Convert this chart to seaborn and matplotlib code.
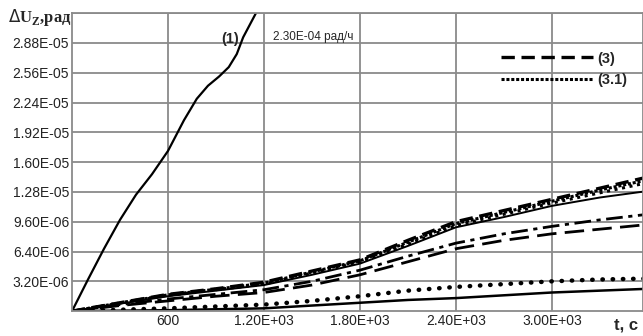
import matplotlib
matplotlib.use("Agg")
import matplotlib.pyplot as plt
import seaborn as sns
import pandas as pd

# curve (1)
t1 = [0, 100, 200, 300, 400, 500, 600, 700, 780, 850, 920, 980, 1030, 1070, 1110, 1150]
u1 = [0, 3.4e-6, 6.7e-6, 9.8e-6, 1.25e-5, 1.47e-5, 1.72e-5, 2.05e-5, 2.28e-5, 2.42e-5, 2.52e-5, 2.62e-5, 2.76e-5, 2.94e-5, 3.07e-5, 3.2e-5]

# lower bundle
t = [0, 300, 600, 900, 1200, 1500, 1800, 2100, 2400, 2700, 3000, 3300, 3600]
u3 = [0, 0.9e-6, 1.8e-6, 2.4e-6, 3.1e-6, 4.3e-6, 5.5e-6, 7.6e-6, 9.6e-6, 1.08e-5, 1.2e-5, 1.32e-5, 1.44e-5]
u31 = [0, 0.88e-6, 1.75e-6, 2.35e-6, 3.0e-6, 4.2e-6, 5.4e-6, 7.4e-6, 9.4e-6, 1.06e-5, 1.18e-5, 1.3e-5, 1.41e-5]
u_dot = [0, 0.85e-6, 1.7e-6, 2.3e-6, 2.9e-6, 4.1e-6, 5.3e-6, 7.2e-6, 9.2e-6, 1.04e-5, 1.16e-5, 1.27e-5, 1.38e-5]
u_sol = [0, 0.8e-6, 1.6e-6, 2.2e-6, 2.8e-6, 3.9e-6, 5.1e-6, 7.0e-6, 9.0e-6, 1.01e-5, 1.13e-5, 1.22e-5, 1.29e-5]
u_dd = [0, 0.7e-6, 1.3e-6, 1.8e-6, 2.3e-6, 3.2e-6, 4.4e-6, 5.9e-6, 7.3e-6, 8.3e-6, 9.1e-6, 9.8e-6, 1.04e-5]
u_ld = [0, 0.6e-6, 1.1e-6, 1.6e-6, 2.0e-6, 2.8e-6, 3.9e-6, 5.3e-6, 6.7e-6, 7.6e-6, 8.3e-6, 8.8e-6, 9.3e-6]
u_bd = [0, 0.15e-6, 0.3e-6, 0.5e-6, 0.7e-6, 1.1e-6, 1.6e-6, 2.2e-6, 2.6e-6, 2.9e-6, 3.2e-6, 3.4e-6, 3.5e-6]
u_ls = [0, 0.05e-6, 0.1e-6, 0.2e-6, 0.3e-6, 0.6e-6, 0.9e-6, 1.2e-6, 1.4e-6, 1.7e-6, 2.0e-6, 2.2e-6, 2.4e-6]

yticks = [3.2e-6, 6.4e-6, 9.6e-6, 1.28e-5, 1.6e-5, 1.92e-5, 2.24e-5, 2.56e-5, 2.88e-5]
ytick_labels = ["3.20E-06", "6.40E-06", "9.60E-06", "1.28E-05", "1.60E-05",
                "1.92E-05", "2.24E-05", "2.56E-05", "2.88E-05"]
xticks = [600, 1200, 1800, 2400, 3000]
xtick_labels = ["600", "1.20E+03", "1.80E+03", "2.40E+03", "3.00E+03"]

sns.set_theme(style="whitegrid")
plt.rcParams['font.family'] = ['Liberation Sans', 'DejaVu Sans']

fig = plt.figure(figsize=(6.43, 3.36), dpi=100)
ax = fig.add_axes([0.112, 0.074, 0.888, 0.887])
ax.set_facecolor("white")

df1 = pd.DataFrame({"t": t1, "u": u1})
sns.lineplot(data=df1, x="t", y="u", ax=ax, color="black", lw=1.6)

styles = [
    (u3, (0, (4, 2)), 2.4),
    (u31, (0, (1, 0.6)), 2.2),
    (u_dot, (0, (1, 1.5)), 2.2),
    (u_sol, "-", 1.4),
    (u_dd, (0, (6, 2, 1.5, 2)), 2.0),
    (u_ld, (0, (7, 3)), 2.0),
    (u_bd, (0, (0.1, 2.2)), 3.2),
    (u_ls, "-", 1.8),
]
for vals, ls, lw in styles:
    d = pd.DataFrame({"t": t, "u": vals})
    sns.lineplot(data=d, x="t", y="u", ax=ax, color="black", lw=lw, linestyle=ls,
                 dash_capstyle="round" if lw > 3 else "butt")

ax.set_xlim(0, 3570)
ax.set_ylim(0, 3.2e-5)
ax.set_xticks(xticks)
ax.set_xticklabels(xtick_labels)
ax.set_yticks(yticks + [3.2e-5])
ax.set_yticklabels(ytick_labels + [""])
ax.tick_params(axis="both", labelsize=10, colors="#222222", pad=2, length=0)
ax.set_xlabel("")
ax.set_ylabel("")
ax.grid(True, color="#8a8a8a", lw=1.3)
for s in ax.spines.values():
    s.set_color("#8a8a8a")
    s.set_linewidth(1.3)

# legend from series (3) and (3.1)
lines = ax.get_lines()
leg = ax.legend([lines[1], lines[2]], ["(3)", "(3.1)"], loc="upper right",
                bbox_to_anchor=(0.995, 0.915), frameon=False, handlelength=6.3,
                handletextpad=0.3, labelspacing=0.5,
                prop={"weight": "bold", "size": 10.5})

ax.text(0.262, 0.9, "(1)", transform=ax.transAxes, fontsize=10.5, fontweight="bold")
ax.text(0.352, 0.91, "2.30E-04 рад/ч", transform=ax.transAxes, fontsize=8.5)
fig.text(0.012, 0.935, r"$\Delta$U$_\mathregular{Z}$,рад", fontsize=12, fontweight="bold",
         family=["Liberation Serif", "DejaVu Serif"])
fig.text(0.955, 0.02, "t, c", fontsize=12, fontweight="bold")

fig.savefig("out.png", dpi=100)
